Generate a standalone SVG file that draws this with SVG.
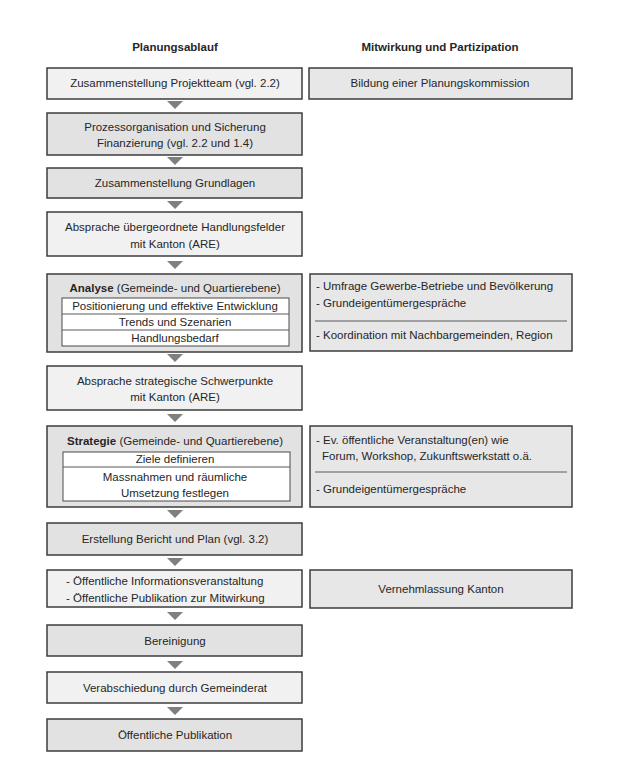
<svg xmlns="http://www.w3.org/2000/svg" width="627" height="769" viewBox="0 0 627 769">
<style>
text{font-family:"Liberation Sans",Arial,sans-serif;font-size:11.5px;fill:#262626}
.c{text-anchor:middle}
.h{font-weight:bold}
.b{font-weight:bold}
.lt{fill:#f1f1f1;stroke:#3c3c3c;stroke-width:1.5}
.dk{fill:#e2e2e2;stroke:#3c3c3c;stroke-width:1.5}
.rt{fill:#e7e7e7;stroke:#3c3c3c;stroke-width:1.5}
.in{fill:#ffffff;stroke:#4a4a4a;stroke-width:1}
.dv{stroke:#5a5a5a;stroke-width:1}
.arrow{fill:#7f7f7f}
</style>
<rect width="627" height="769" fill="#ffffff"/>
<g id="headers">
<text class="c h" x="175" y="51">Planungsablauf</text>
<text class="c h" x="440" y="51">Mitwirkung und Partizipation</text>
</g>
<g id="connectors">
<polygon class="arrow" points="167,101 183,101 175,109"/>
<polygon class="arrow" points="167,157 183,157 175,165"/>
<polygon class="arrow" points="167,201 183,201 175,209"/>
<polygon class="arrow" points="167,261 183,261 175,269"/>
<polygon class="arrow" points="167,354 183,354 175,362"/>
<polygon class="arrow" points="167,414 183,414 175,422"/>
<polygon class="arrow" points="167,510 183,510 175,518"/>
<polygon class="arrow" points="167,558 183,558 175,566"/>
<polygon class="arrow" points="167,612 183,612 175,620"/>
<polygon class="arrow" points="167,661 183,661 175,669"/>
<polygon class="arrow" points="167,707 183,707 175,715"/>
</g>
<g id="n1">
<rect class="lt" x="47" y="68" width="255" height="31"/>
<text class="c" x="175" y="87">Zusammenstellung Projektteam (vgl. 2.2)</text>
</g>
<g id="r1">
<rect class="rt" x="309" y="68" width="263" height="31"/>
<text class="c" x="440" y="87">Bildung einer Planungskommission</text>
</g>
<g id="n2">
<rect class="dk" x="47" y="113" width="255" height="42"/>
<text class="c" x="175" y="131">Prozessorganisation und Sicherung</text>
<text class="c" x="175" y="147">Finanzierung (vgl. 2.2 und 1.4)</text>
</g>
<g id="n3">
<rect class="dk" x="47" y="168" width="255" height="30"/>
<text class="c" x="175" y="187">Zusammenstellung Grundlagen</text>
</g>
<g id="n4">
<rect class="lt" x="47" y="212" width="255" height="44"/>
<text class="c" x="175" y="231">Absprache übergeordnete Handlungsfelder</text>
<text class="c" x="175" y="248">mit Kanton (ARE)</text>
</g>
<g id="n5">
<rect class="dk" x="47" y="274" width="255" height="78"/>
<text class="c" x="175" y="292"><tspan class="b">Analyse</tspan> (Gemeinde- und Quartierebene)</text>
<rect class="in" x="62" y="298" width="227" height="48"/>
<line class="dv" x1="62" y1="314" x2="289" y2="314"/>
<line class="dv" x1="62" y1="330" x2="289" y2="330"/>
<text class="c" x="175" y="310">Positionierung und effektive Entwicklung</text>
<text class="c" x="175" y="326">Trends und Szenarien</text>
<text class="c" x="175" y="342">Handlungsbedarf</text>
</g>
<g id="r5">
<rect class="rt" x="310" y="274" width="262" height="77"/>
<text x="316" y="290">- Umfrage Gewerbe-Betriebe und Bevölkerung</text>
<text x="316" y="307">- Grundeigentümergespräche</text>
<line class="dv" x1="315" y1="321" x2="567" y2="321"/>
<text x="316" y="339">- Koordination mit Nachbargemeinden, Region</text>
</g>
<g id="n6">
<rect class="lt" x="47" y="366" width="255" height="44"/>
<text class="c" x="175" y="385">Absprache strategische Schwerpunkte</text>
<text class="c" x="175" y="401">mit Kanton (ARE)</text>
</g>
<g id="n7">
<rect class="dk" x="47" y="426" width="255" height="81"/>
<text class="c" x="175" y="445"><tspan class="b">Strategie</tspan> (Gemeinde- und Quartierebene)</text>
<rect class="in" x="63" y="452" width="227" height="49"/>
<line class="dv" x1="63" y1="467" x2="290" y2="467"/>
<text class="c" x="175" y="463">Ziele definieren</text>
<text class="c" x="175" y="481">Massnahmen und räumliche</text>
<text class="c" x="175" y="497">Umsetzung festlegen</text>
</g>
<g id="r7">
<rect class="rt" x="310" y="426" width="262" height="81"/>
<text x="316" y="444">- Ev. öffentliche Veranstaltung(en) wie</text>
<text x="322" y="460">Forum, Workshop, Zukunftswerkstatt o.ä.</text>
<line class="dv" x1="315" y1="472" x2="567" y2="472"/>
<text x="316" y="493">- Grundeigentümergespräche</text>
</g>
<g id="n8">
<rect class="dk" x="47" y="523" width="255" height="32"/>
<text class="c" x="175" y="543">Erstellung Bericht und Plan (vgl. 3.2)</text>
</g>
<g id="n9">
<rect class="lt" x="47" y="570" width="255" height="37"/>
<text x="66" y="585">- Öffentliche Informationsveranstaltung</text>
<text x="66" y="602">- Öffentliche Publikation zur Mitwirkung</text>
</g>
<g id="r9">
<rect class="rt" x="310" y="570" width="262" height="38"/>
<text class="c" x="441" y="593">Vernehmlassung Kanton</text>
</g>
<g id="n10">
<rect class="dk" x="47" y="625" width="255" height="31"/>
<text class="c" x="175" y="645">Bereinigung</text>
</g>
<g id="n11">
<rect class="lt" x="47" y="672" width="255" height="31"/>
<text class="c" x="175" y="692">Verabschiedung durch Gemeinderat</text>
</g>
<g id="n12">
<rect class="dk" x="47" y="719" width="255" height="32"/>
<text class="c" x="175" y="739">Öffentliche Publikation</text>
</g>
</svg>
